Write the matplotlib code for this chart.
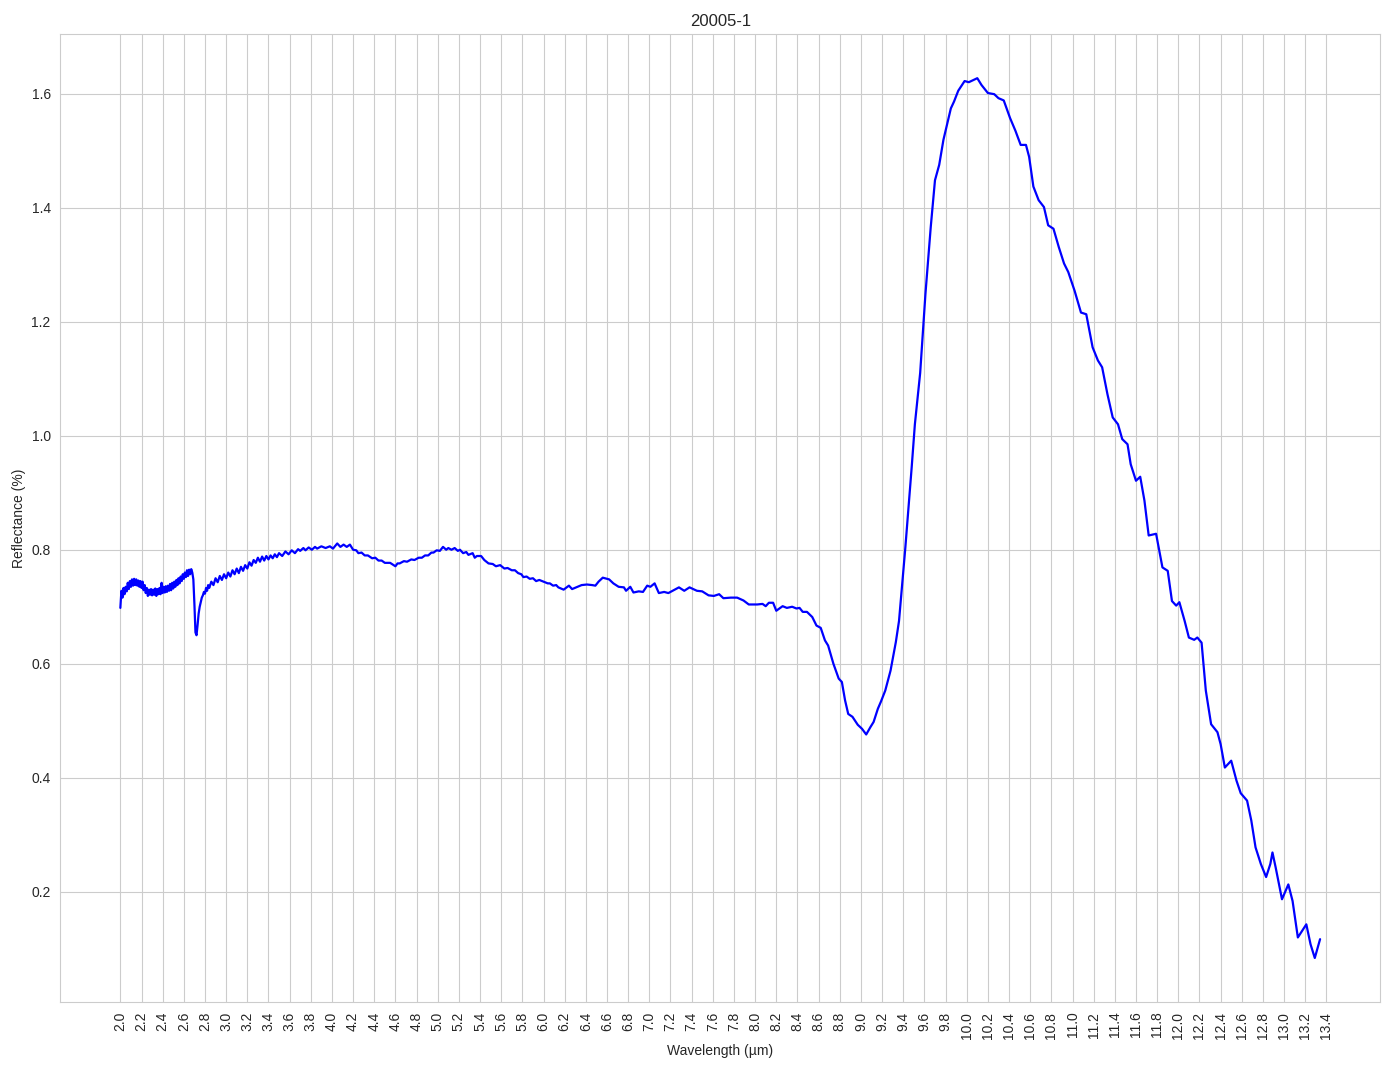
"""Reflectance spectrum of sample 20005-1."""

import numpy as np
import matplotlib.pyplot as plt
import seaborn as sns

SAMPLE = "20005-1"

# noisy short-wave part (jitter included as seen)
wl_short = [
    2.00, 2.01, 2.02, 2.03, 2.04, 2.05, 2.06, 2.07, 2.08, 2.09,
    2.10, 2.11, 2.12, 2.13, 2.14, 2.15, 2.16, 2.17, 2.18, 2.19,
    2.20, 2.21, 2.22, 2.23, 2.24, 2.25, 2.26, 2.27, 2.28, 2.29,
    2.30, 2.31, 2.32, 2.33, 2.34, 2.35, 2.36, 2.37, 2.38, 2.39,
    2.40, 2.41, 2.42, 2.43, 2.44, 2.45, 2.46, 2.47, 2.48, 2.49,
    2.50, 2.51, 2.52, 2.53, 2.54, 2.55, 2.56, 2.57, 2.58, 2.59,
    2.60, 2.61, 2.62, 2.63, 2.64, 2.65, 2.66, 2.67, 2.68, 2.69,
    2.70, 2.71, 2.72, 2.73, 2.74, 2.75, 2.76, 2.77, 2.78, 2.79,
    2.80, 2.81, 2.82, 2.83, 2.84, 2.86, 2.88, 2.90, 2.92, 2.94,
    2.96, 2.98, 3.00, 3.02, 3.04, 3.06, 3.08, 3.10, 3.12, 3.14,
    3.16, 3.18, 3.20, 3.22, 3.24, 3.26, 3.28, 3.30, 3.32, 3.34,
    3.36, 3.38, 3.40, 3.42, 3.44, 3.46, 3.48, 3.50, 3.53, 3.56,
    3.59, 3.62, 3.65, 3.68,
]
refl_short = [
    0.698, 0.728, 0.716, 0.733, 0.722, 0.735, 0.727, 0.742, 0.731, 0.745,
    0.735, 0.748, 0.737, 0.749, 0.738, 0.748, 0.737, 0.746, 0.735, 0.745,
    0.733, 0.744, 0.729, 0.738, 0.724, 0.733, 0.719, 0.730, 0.721, 0.731,
    0.720, 0.730, 0.721, 0.732, 0.719, 0.731, 0.722, 0.733, 0.722, 0.742,
    0.724, 0.735, 0.725, 0.736, 0.726, 0.737, 0.728, 0.740, 0.729, 0.742,
    0.732, 0.744, 0.735, 0.747, 0.738, 0.750, 0.741, 0.753, 0.745, 0.757,
    0.749, 0.760, 0.752, 0.764, 0.754, 0.765, 0.757, 0.766, 0.760, 0.748,
    0.705, 0.655, 0.650, 0.668, 0.688, 0.700, 0.708, 0.716, 0.720, 0.726,
    0.723, 0.733, 0.728, 0.738, 0.733, 0.744, 0.738, 0.750, 0.743, 0.754,
    0.747, 0.757, 0.750, 0.760, 0.753, 0.764, 0.757, 0.767, 0.759, 0.770,
    0.763, 0.773, 0.767, 0.778, 0.772, 0.782, 0.777, 0.786, 0.779, 0.788,
    0.781, 0.789, 0.783, 0.790, 0.785, 0.792, 0.787, 0.794, 0.789, 0.797,
    0.792, 0.799, 0.794, 0.801,
]

# plateau 3.7 - 8.5 um
wl_mid = [
    3.70, 3.73, 3.75, 3.78, 3.81, 3.84, 3.86, 3.90, 3.94, 3.98,
    4.01, 4.05, 4.08, 4.11, 4.14, 4.17, 4.20, 4.23, 4.25, 4.28,
    4.31, 4.34, 4.38, 4.41, 4.44, 4.47, 4.50, 4.55, 4.60, 4.62,
    4.64, 4.68, 4.71, 4.75, 4.78, 4.82, 4.85, 4.88, 4.91, 4.94,
    4.96, 4.99, 5.02, 5.05, 5.08, 5.10, 5.13, 5.16, 5.19, 5.21,
    5.24, 5.27, 5.29, 5.33, 5.35, 5.37, 5.41, 5.44, 5.48, 5.52,
    5.55, 5.59, 5.63, 5.66, 5.70, 5.73, 5.76, 5.79, 5.81, 5.84,
    5.87, 5.90, 5.93, 5.96, 6.00, 6.04, 6.06, 6.09, 6.12, 6.14,
    6.19, 6.24, 6.27, 6.32, 6.36, 6.41, 6.46, 6.49, 6.52, 6.56,
    6.62, 6.66, 6.71, 6.76, 6.78, 6.82, 6.85, 6.90, 6.94, 6.98,
    7.01, 7.05, 7.09, 7.14, 7.18, 7.23, 7.28, 7.33, 7.38, 7.45,
    7.50, 7.56, 7.61, 7.66, 7.70, 7.77, 7.83, 7.89, 7.94, 8.02,
    8.07, 8.10, 8.13, 8.17, 8.20, 8.26, 8.30, 8.35, 8.39, 8.42,
    8.45, 8.49,
]
refl_mid = [
    0.798, 0.803, 0.799, 0.804, 0.800, 0.805, 0.802, 0.806, 0.803, 0.806,
    0.802, 0.811, 0.805, 0.809, 0.805, 0.809, 0.800, 0.799, 0.794, 0.795,
    0.790, 0.790, 0.785, 0.786, 0.781, 0.781, 0.777, 0.777, 0.771, 0.776,
    0.776, 0.780, 0.779, 0.783, 0.782, 0.786, 0.786, 0.790, 0.790, 0.795,
    0.795, 0.799, 0.798, 0.805, 0.800, 0.803, 0.800, 0.803, 0.798, 0.800,
    0.794, 0.796, 0.791, 0.794, 0.786, 0.789, 0.789, 0.782, 0.776, 0.775,
    0.771, 0.773, 0.767, 0.768, 0.764, 0.764, 0.759, 0.757, 0.752, 0.753,
    0.749, 0.750, 0.745, 0.747, 0.744, 0.741, 0.741, 0.737, 0.738, 0.734,
    0.730, 0.737, 0.731, 0.735, 0.738, 0.739, 0.738, 0.737, 0.744, 0.751,
    0.748, 0.741, 0.735, 0.734, 0.728, 0.735, 0.725, 0.727, 0.726, 0.737,
    0.735, 0.741, 0.724, 0.726, 0.724, 0.729, 0.734, 0.728, 0.734, 0.728,
    0.727, 0.720, 0.719, 0.722, 0.715, 0.716, 0.716, 0.711, 0.704, 0.704,
    0.705, 0.701, 0.707, 0.707, 0.693, 0.701, 0.698, 0.700, 0.697, 0.698,
    0.691, 0.691,
]

# absorption dip, reststrahlen peak and long-wave tail
wl_long = [
    8.54, 8.58, 8.62, 8.66, 8.69, 8.74, 8.79, 8.82, 8.85, 8.88,
    8.92, 8.97, 9.01, 9.05, 9.09, 9.12, 9.16, 9.19, 9.23, 9.28,
    9.33, 9.36, 9.39, 9.42, 9.45, 9.48, 9.51, 9.56, 9.61, 9.66,
    9.70, 9.74, 9.78, 9.85, 9.88, 9.92, 9.98, 10.02, 10.10, 10.14,
    10.20, 10.26, 10.30, 10.35, 10.41, 10.46, 10.51, 10.56, 10.59, 10.63,
    10.68, 10.73, 10.77, 10.82, 10.87, 10.92, 10.96, 11.02, 11.08, 11.13,
    11.19, 11.24, 11.28, 11.33, 11.38, 11.43, 11.47, 11.52, 11.55, 11.60,
    11.64, 11.68, 11.72, 11.79, 11.82, 11.85, 11.90, 11.94, 11.98, 12.01,
    12.06, 12.10, 12.15, 12.18, 12.22, 12.26, 12.31, 12.37, 12.40, 12.44,
    12.50, 12.55, 12.59, 12.65, 12.69, 12.73, 12.78, 12.83, 12.87, 12.89,
    12.92, 12.98, 13.04, 13.08, 13.13, 13.21, 13.25, 13.29, 13.34,
]
refl_long = [
    0.682, 0.667, 0.663, 0.641, 0.632, 0.600, 0.574, 0.568, 0.536, 0.512,
    0.507, 0.493, 0.486, 0.476, 0.489, 0.498, 0.521, 0.534, 0.553, 0.588,
    0.638, 0.675, 0.740, 0.804, 0.874, 0.945, 1.020, 1.110, 1.249, 1.366,
    1.448, 1.475, 1.519, 1.574, 1.586, 1.605, 1.622, 1.620, 1.627, 1.615,
    1.601, 1.599, 1.592, 1.588, 1.557, 1.535, 1.510, 1.510, 1.489, 1.437,
    1.413, 1.401, 1.369, 1.363, 1.331, 1.302, 1.287, 1.254, 1.216, 1.213,
    1.155, 1.132, 1.120, 1.073, 1.032, 1.020, 0.994, 0.985, 0.950, 0.921,
    0.928, 0.886, 0.825, 0.828, 0.798, 0.769, 0.763, 0.710, 0.702, 0.708,
    0.675, 0.646, 0.642, 0.646, 0.637, 0.553, 0.494, 0.480, 0.459, 0.418,
    0.430, 0.395, 0.373, 0.360, 0.325, 0.278, 0.249, 0.226, 0.249, 0.269,
    0.243, 0.187, 0.213, 0.184, 0.120, 0.143, 0.108, 0.084, 0.117,
]

tick_values = np.round(np.arange(2.0, 13.41, 0.2), 1)

sns.set_style("whitegrid")
plt.rcParams["font.family"] = ["Liberation Sans", "DejaVu Sans"]

wavelength = np.array(wl_short + wl_mid + wl_long)
reflectance = np.array(refl_short + refl_mid + refl_long)

fig, ax = plt.subplots(figsize=(13.94, 10.69), dpi=100)
fig.subplots_adjust(left=0.0433, right=0.99, top=0.968, bottom=0.0627)

ax.plot(wavelength, reflectance, color="blue", lw=1.6)
ax.set_xticks(tick_values)
ax.set_xticklabels([f"{t:.1f}" for t in tick_values], rotation=90)
ax.set_xlabel("Wavelength (µm)")
ax.set_ylabel("Reflectance (%)")
ax.set_title(SAMPLE)

fig.savefig("out.png", dpi=100)
plt.close(fig)
